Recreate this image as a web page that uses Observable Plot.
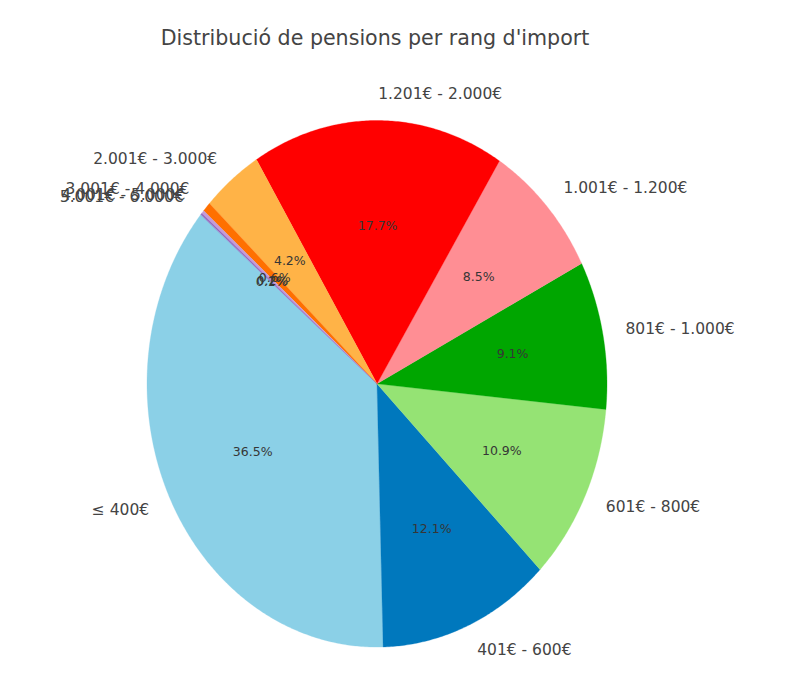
<!DOCTYPE html>
<html>
<head>
<meta charset="utf-8">
<script src="https://cdn.jsdelivr.net/npm/d3@7"></script>
<script src="https://cdn.jsdelivr.net/npm/@observablehq/plot@0.6"></script>
<style>
  html, body { margin: 0; padding: 0; background: #fff; }
  #title { box-sizing: border-box; height: 60px; padding-top: 23px; line-height: 30px; width: 800px;
           font-family: "DejaVu Sans", sans-serif; font-size: 20.6px; color: #444; text-align: center; }
  #title span { position: relative; left: -25px; }
  #chart svg { display: block; }
</style>
</head>
<body>
<div id="title"><span>Distribució de pensions per rang d'import</span></div>
<div id="chart"></div>
<script>
const categories = ["≤ 400€", "401€ - 600€", "601€ - 800€", "801€ - 1.000€", "1.001€ - 1.200€",
  "1.201€ - 2.000€", "2.001€ - 3.000€", "3.001€ - 4.000€", "4.001€ - 5.000€", "5.001€ - 6.000€"];
const shares = [36.5, 12.1, 10.9, 9.1, 8.5, 17.7, 4.2, 0.6, 0.2, 0.1];
const colors = ["#8bd0e7", "#0078bd", "#95e374", "#00a600", "#ff8e94", "#ff0000", "#ffb347", "#ff7000", "#c39bd8", "#9467bd"];
const startAngle = 140;

const total = d3.sum(shares);
const slices = [];
let a = startAngle;
categories.forEach((c, i) => {
  const span = shares[i] / total * 360;
  slices.push({cat: c, value: shares[i], color: colors[i], a0: a, a1: a + span, mid: a + span / 2});
  a += span;
});
const rad = d => d * Math.PI / 180;

// polygon points for each slice
const poly = [];
slices.forEach(s => {
  poly.push({cat: s.cat, color: s.color, x: 0, y: 0});
  const n = Math.max(2, Math.ceil((s.a1 - s.a0) / 0.5));
  for (let k = 0; k <= n; k++) {
    const t = rad(s.a0 + (s.a1 - s.a0) * k / n);
    poly.push({cat: s.cat, color: s.color, x: Math.cos(t), y: Math.sin(t)});
  }
});

const outer = slices.map(s => {
  const x = 1.1 * Math.cos(rad(s.mid)), y = 1.1 * Math.sin(rad(s.mid));
  return {label: s.cat, x, y, anchor: x > 0 ? "start" : "end"};
});
const inner = slices.map(s => ({
  label: s.value.toFixed(1) + "%",
  x: 0.6 * Math.cos(rad(s.mid)), y: 0.6 * Math.sin(rad(s.mid))
}));

const W = 800, H = 636;
const cx = 376.5, rx = 230, cy = 383.3 - 60, ry = 263.3;
const chart = Plot.plot({
  width: W, height: H,
  margin: 0,
  x: {domain: [(0 - cx) / rx, (W - cx) / rx], range: [0, W], axis: null},
  y: {domain: [(cy - H) / ry, cy / ry], range: [H, 0], axis: null},
  color: {type: "identity"},
  style: {fontFamily: "DejaVu Sans, sans-serif", background: "#fff"},
  marks: [
    Plot.line(poly, {x: "x", y: "y", z: "cat", fill: "color", stroke: "color", strokeWidth: 0.3, curve: "linear-closed"}),
    Plot.text(inner, {x: "x", y: "y", text: "label", fontSize: 12.5, fill: "#363636", textAnchor: "middle"}),
    Plot.text(outer.filter(d => d.anchor === "start"), {x: "x", y: "y", text: "label", fontSize: 15.5, fill: "#444", textAnchor: "start"}),
    Plot.text(outer.filter(d => d.anchor === "end"), {x: "x", y: "y", text: "label", fontSize: 15.5, fill: "#444", textAnchor: "end"})
  ]
});
document.getElementById("chart").appendChild(chart);
</script>
</body>
</html>
